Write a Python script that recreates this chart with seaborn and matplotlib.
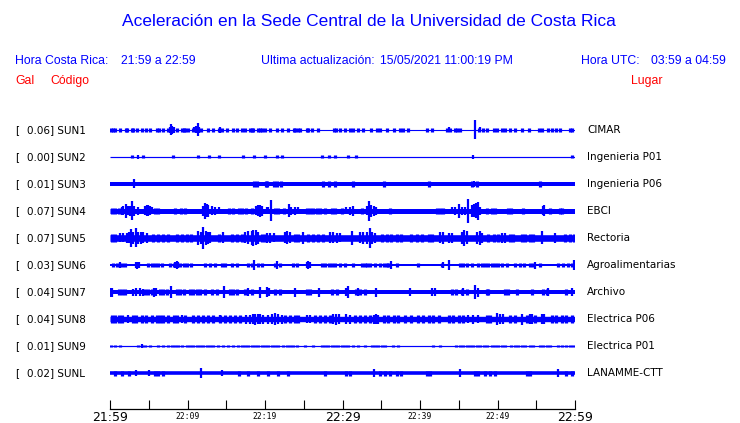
import matplotlib
matplotlib.use("Agg")
import matplotlib.pyplot as plt
import seaborn as sns
import pandas as pd

# ---------------- data ----------------
stations = ["SUN1", "SUN2", "SUN3", "SUN4", "SUN5", "SUN6", "SUN7", "SUN8", "SUN9", "SUNL"]
peak_gal = ["0.06", "0.00", "0.01", "0.07", "0.07", "0.03", "0.04", "0.04", "0.01", "0.02"]
places = ["CIMAR", "Ingenieria P01", "Ingenieria P06", "EBCI", "Rectoria",
          "Agroalimentarias", "Archivo", "Electrica P06", "Electrica P01", "LANAMME-CTT"]
tick_minutes = [0, 5, 10, 15, 20, 25, 30, 35, 40, 45, 50, 55, 60]
tick_labels = ["21:59", "", "22:09", "", "22:19", "", "22:29", "", "22:39", "", "22:49", "", "22:59"]
big_ticks = ["21:59", "22:29", "22:59"]

# background trace half-width and typical blip half-amplitude (relative units)
base_half = [0.55, 0.6, 2.0, 2.5, 3.3, 1.0, 2.0, 2.7, 0.6, 1.8]
blip_amp = [1.8, 1.5, 2.6, 3.2, 4.2, 2.3, 3.3, 3.6, 1.4, 2.5]

# minutes after 21:59 of small blips
sun1_blips = [0.1, 0.4, 0.6, 1.3, 2.0, 2.2, 2.8, 3.0, 3.5, 4.1, 4.6, 5.2, 6.1, 6.3, 6.9, 7.5, 8.6, 9.3,
              9.5, 9.7, 10.1, 10.75, 11.8, 12.7, 13.3, 14.0, 14.4, 15.05, 15.9, 16.35, 17.0, 17.4,
              18.1, 18.3, 18.5, 19.1, 19.4, 19.65, 20.0, 20.6, 21.6, 22.15, 23.0, 23.7, 23.9, 24.2,
              24.5, 25.4, 25.6, 26.0, 26.9, 28.9, 29.1, 29.7, 30.3, 31.0, 31.4, 32.0, 32.7, 33.7,
              34.4, 34.8, 35.7, 36.6, 37.4, 37.85, 38.5, 40.85, 41.5, 43.5, 43.9, 44.5, 44.8, 45.2,
              47.6, 48.1, 48.6, 49.5, 49.9, 50.55, 51.0, 51.6, 52.3, 53.1, 54.0, 55.3, 55.7, 56.55,
              57.0, 57.6, 58.1, 59.4, 59.6]
sun2_blips = [2.9, 4.3, 8.1, 11.4, 12.8, 14.1, 17.2, 18.6, 20.0, 21.5, 22.2, 27.3, 28.2, 29.0,
              30.75, 31.8, 59.6]
sun3_blips = [18.6, 19.0, 20.1, 20.3, 21.1, 21.5, 22.0, 27.5, 28.2, 29.0, 31.3, 35.3, 41.1, 46.7,
              47.3, 55.5]
sun4_blips = [0.2, 0.65, 1.1, 5.8, 6.2, 8.4, 9.2, 9.7, 15.3, 15.9, 16.6, 17.0, 17.6, 18.3, 21.3,
              21.7, 22.4, 25.4, 25.8, 26.2, 26.7, 27.1, 27.7, 28.6, 29.0, 29.9, 32.5, 36.1, 42.15,
              42.6, 43.0, 48.6, 49.25, 49.7, 51.4, 51.8, 53.3, 56.8, 58.1, 58.3]
sun5_blips = [0.2, 0.65, 5.6, 6.2, 6.9, 7.5, 8.6, 9.25, 9.9, 10.5, 14.0, 15.7, 16.35, 17.0, 19.6,
              20.0, 23.9, 24.3, 25.6, 26.2, 26.9, 27.5, 35.05, 35.7, 36.3, 37.0, 37.6, 38.9, 39.6,
              40.2, 41.1, 41.5, 48.8, 49.5, 50.1, 51.6, 52.05, 53.1, 53.55, 54.2, 54.6, 58.7, 59.4,
              59.9]
sun6_blips = [0.43, 0.86, 1.5, 1.9, 4.95, 5.4, 5.8, 6.2, 6.7, 7.7, 8.2, 9.0, 9.5, 9.9, 10.5, 12.3,
              12.9, 13.55, 14.4, 14.8, 15.7, 16.35, 17.85, 18.3, 19.1, 19.65, 21.3, 21.9, 23.65,
              24.1, 27.3, 27.75, 28.2, 28.6, 29.0, 29.7, 30.3, 31.4, 32.5, 32.9, 33.1, 33.55, 34.2,
              34.8, 35.3, 35.7, 35.9, 37.0, 39.8, 42.8, 45.2, 45.6, 46.0, 46.7, 47.5, 48.0, 48.4,
              48.8, 49.25, 49.7, 50.1, 50.55, 51.2, 52.3, 52.9, 53.4, 54.2, 54.6, 55.5, 57.85,
              58.5, 59.15, 59.6]
sun7_blips = [1.1, 1.5, 1.9, 4.5, 4.95, 5.4, 6.45, 6.9, 7.3, 8.6, 9.0, 9.5, 10.3, 10.75, 11.2,
              11.6, 12.26, 13.1, 13.8, 15.5, 15.9, 16.35, 17.4, 18.3, 21.3, 21.9, 25.4, 25.8, 28.6,
              29.25, 31.8, 32.25, 32.9, 44.1, 44.7, 45.4, 46.0, 48.6, 48.8, 51.0, 51.4, 52.5, 54.4,
              55.9, 56.35, 58.9]
sun8_blips = [0.2, 0.65, 1.1, 1.5, 3.0, 3.4, 4.1, 4.7, 5.4, 6.0, 6.45, 6.9, 7.5, 8.2, 8.6, 9.7,
              10.75, 11.4, 12.0, 12.7, 13.3, 14.2, 14.8, 15.5, 16.1, 16.8, 22.6, 23.2, 23.9, 24.3,
              26.45, 27.1, 27.75, 28.4, 31.6, 32.25, 32.9, 33.55, 35.3, 35.9, 36.6, 37.2, 38.1,
              38.9, 39.8, 40.4, 41.1, 41.7, 42.4, 43.7, 44.3, 45.0, 45.6, 48.6, 49.0, 51.6, 52.3,
              53.8, 54.85, 57.0, 57.6, 58.3, 58.9, 59.6]
sun9_blips = [0.13, 0.65, 1.29, 3.66, 4.09, 4.52, 5.16, 6.24, 6.88, 7.53, 7.96, 8.39, 8.82, 9.25,
              9.89, 10.32, 10.75, 11.18, 11.61, 12.04, 12.47, 12.9, 13.33, 13.98, 14.62, 15.27,
              15.91, 16.56, 16.99, 17.42, 17.85, 18.28, 18.71, 19.14, 19.57, 20.0, 20.43, 20.86,
              21.29, 21.72, 22.37, 22.8, 23.23, 23.66, 24.09, 25.16, 26.24, 27.31, 27.74, 28.17,
              28.6, 29.03, 29.46, 29.89, 30.32, 30.75, 31.4, 32.04, 32.9, 33.76, 34.19, 34.62,
              35.05, 35.48, 36.56, 37.2, 41.7, 42.6, 44.7, 45.2, 45.6, 46.0, 46.5, 46.9, 47.3,
              47.75, 48.2, 48.6, 49.25, 49.7, 50.1, 50.55, 51.0, 51.8, 52.3, 52.7, 53.1, 53.55,
              54.2, 54.6, 55.5, 55.9, 56.35, 56.8, 57.85, 58.3, 58.9, 59.4, 59.8]
sunl_blips = [0.65, 1.5, 2.4, 5.8, 6.2, 6.9, 16.6, 17.85, 19.1, 20.4, 21.7, 23.0, 27.75, 30.5,
              31.0, 34.8, 35.5, 36.1, 37.0, 37.6, 40.85, 41.3, 47.1, 47.5, 48.4, 49.0, 49.7, 53.8,
              54.2, 58.9, 59.6]

# (minute, half-amplitude) of larger arrivals
sun1_peaks = [(7.7, 3), (7.9, 5.5), (8.0, 4), (8.2, 3), (10.9, 2.5), (11.1, 3.5), (11.3, 6.5),
              (11.5, 3), (14.2, 3), (43.7, 2.5), (47.1, 9.5), (47.8, 2.5)]
sun2_peaks = [(3.66, 2.0), (46.8, 2.0)]
sun3_peaks = [(3.1, 4.5), (47.0, 3.2)]
sun4_peaks = [(1.5, 4), (1.72, 4.5), (2.0, 7), (2.37, 4.5), (2.58, 5), (2.88, 9.5), (3.14, 5),
              (3.66, 4), (4.5, 4.5), (4.73, 5.5), (4.95, 5.5), (5.16, 4.5), (5.38, 3.5), (12.0, 5),
              (12.26, 8), (12.47, 6.5), (12.7, 6), (13.1, 4.5), (13.55, 4), (14.0, 3.5), (18.9, 4.5),
              (19.1, 5.5), (19.35, 6), (19.6, 5), (20.2, 3.5), (20.4, 3.5), (20.8, 10.5), (23.1, 6.5),
              (23.4, 4), (23.9, 4), (24.3, 3.5), (30.5, 3.5), (31.0, 4), (31.4, 5), (33.1, 4.5),
              (33.4, 10), (33.7, 6), (34.0, 5), (34.3, 4), (44.1, 3.5), (44.5, 4), (45.0, 7),
              (45.4, 4), (45.8, 4), (46.2, 12), (46.7, 6), (47.0, 6.5), (47.2, 7.5), (47.45, 8.7),
              (47.75, 4), (55.9, 4.5), (56.05, 5.5)]
sun5_peaks = [(1.3, 4.5), (1.72, 4.5), (2.15, 5), (2.45, 5.5), (2.7, 9), (3.0, 6), (3.3, 9.5),
              (3.66, 6), (4.0, 6), (4.3, 5.5), (4.73, 5), (11.4, 7), (11.7, 6), (12.0, 11),
              (12.35, 7), (12.7, 6), (12.9, 5.5), (14.6, 5.5), (17.4, 5.5), (17.85, 6.5), (18.3, 7),
              (18.5, 8), (18.8, 7.5), (19.1, 6), (20.2, 5), (20.65, 5), (21.1, 4.5), (22.6, 5.5),
              (22.9, 6.5), (23.2, 5.5), (24.95, 6), (28.4, 5.5), (28.8, 5.5), (29.25, 5),
              (29.7, 4.5), (31.2, 7), (32.25, 5.5), (32.7, 6), (33.1, 6), (33.55, 10), (33.85, 6),
              (34.2, 5), (42.6, 5.5), (43.0, 6), (43.7, 5), (44.1, 5), (45.4, 6), (45.7, 8),
              (46.0, 6.5), (47.3, 6), (47.75, 7), (48.05, 5), (50.55, 5), (51.0, 5), (55.7, 6.5),
              (57.4, 5)]
sun6_peaks = [(1.3, 3.3), (3.3, 3.0), (3.5, 3.5), (3.7, 3.0), (8.4, 3.2), (8.6, 3.7), (8.8, 3.0),
              (18.6, 5), (21.6, 3.7), (25.4, 3.0), (25.6, 4.0), (25.8, 3.0), (36.3, 3.7),
              (43.0, 3.3), (43.8, 5.0), (54.8, 3.5), (59.9, 5.0)]
sun7_peaks = [(0.05, 4.5), (0.2, 4.5), (3.0, 3.5), (3.4, 4.2), (3.87, 3.8), (4.3, 3.5), (5.7, 4.5),
              (5.9, 4.0), (7.9, 6.0), (14.75, 6.0), (17.85, 4.0), (19.4, 5.5), (20.2, 5.0),
              (20.5, 4.0), (23.9, 4.5), (27.0, 4.5), (30.5, 4.0), (30.75, 5.8), (32.0, 4.0),
              (34.3, 4.5), (38.7, 4.0), (41.5, 4.0), (41.9, 4.0), (45.6, 4.0), (47.1, 6.8),
              (47.45, 4.5), (56.55, 3.8), (59.6, 4.0)]
sun8_peaks = [(2.37, 4.0), (9.25, 4.0), (14.2, 4.0), (17.6, 4.5), (18.1, 4.5), (18.4, 5.0),
              (18.7, 5.5), (19.05, 5.0), (19.35, 5.0), (19.8, 4.5), (20.4, 4.5), (20.9, 5.0),
              (21.3, 6.0), (21.7, 5.0), (22.15, 4.5), (25.4, 4.0), (25.8, 4.0), (28.8, 5.0),
              (29.15, 5.5), (29.5, 5.0), (30.5, 5.0), (31.0, 4.5), (34.0, 4.5), (34.3, 5.0),
              (34.6, 4.5), (46.2, 4.0), (46.9, 4.5), (47.5, 4.0), (49.9, 6.0), (50.3, 5.0),
              (50.75, 5.0), (53.1, 5.5), (54.2, 5.0), (54.5, 5.0), (55.7, 5.0), (56.05, 5.0)]
sun9_peaks = [(4.1, 2.0)]
sunl_peaks = [(3.3, 2.8), (5.0, 3.0), (11.8, 4.7), (14.4, 3.0), (34.1, 3.7), (45.1, 3.7),
              (57.85, 4.0)]

all_blips = [sun1_blips, sun2_blips, sun3_blips, sun4_blips, sun5_blips,
             sun6_blips, sun7_blips, sun8_blips, sun9_blips, sunl_blips]
all_peaks = [sun1_peaks, sun2_peaks, sun3_peaks, sun4_peaks, sun5_peaks,
             sun6_peaks, sun7_peaks, sun8_peaks, sun9_peaks, sunl_peaks]

# ---------------- style ----------------
BLUE = "#0000ff"
RED = "#ff0000"
W, H, DPI = 740, 423, 100

sns.set_theme(style="white")
plt.rcParams["font.family"] = ["Liberation Sans", "DejaVu Sans"]

fig = plt.figure(figsize=(W / DPI, H / DPI), dpi=DPI)
fig.patch.set_facecolor("white")

# axes: x 110..575 px, y 116..409 px (bottom spine = time axis)
ax_left, ax_right, ax_top, ax_bot = 110, 575, 116, 409
ax = fig.add_axes([ax_left / W, (H - ax_bot) / H, (ax_right - ax_left) / W, (ax_bot - ax_top) / H])
ax.set_facecolor("white")
ax.set_xlim(0, 60)
ax.set_ylim(ax_bot - ax_top, 0)  # 1 unit = 1 pixel, downward
px2pt = 72.0 / DPI

for i, st in enumerate(stations):
    c = 14 + 27 * i
    df = pd.DataFrame({"t": [0, 60], "y": [c, c]})
    sns.lineplot(data=df, x="t", y="y", ax=ax, color=BLUE,
                 linewidth=max(2 * base_half[i], 1.1) * px2pt, solid_capstyle="butt")
    b = blip_amp[i]
    ax.vlines(all_blips[i], c - b, c + b, color=BLUE, lw=2.3)
    pt = [p[0] for p in all_peaks[i]]
    pa = [p[1] for p in all_peaks[i]]
    ax.vlines(pt, [c - a for a in pa], [c + a for a in pa], color=BLUE, lw=1.6)

    # left / right labels
    yf = 1 - (ax_top + c) / H
    fig.text(15 / W, yf, "[", fontsize=7.5, family="DejaVu Sans", color="black", va="center")
    fig.text(27.3 / W, yf, f"{peak_gal[i]}] {st}", fontsize=7.5, family="DejaVu Sans",
             color="black", va="center")
    fig.text(587.3 / W, yf, places[i], fontsize=7.5, family="DejaVu Sans",
             color="black", va="center")

ax.set_xlabel("")
ax.set_ylabel("")
ax.set_yticks([])
for s in ["top", "left", "right"]:
    ax.spines[s].set_visible(False)
ax.spines["bottom"].set_color("black")
ax.spines["bottom"].set_linewidth(0.9)
ax.set_xticks(tick_minutes)
ax.set_xticklabels(tick_labels)
ax.tick_params(axis="x", direction="in", length=6.5, width=0.8, color="black", pad=1.5,
               bottom=True)
for lab in ax.get_xticklabels():
    if lab.get_text() in big_ticks:
        lab.set_fontfamily("DejaVu Sans")
        lab.set_fontsize(9)
    else:
        lab.set_fontfamily("DejaVu Sans Mono")
        lab.set_fontsize(5.8)
        lab.set_y(-0.004)
    lab.set_color("black")

# ---------------- header texts ----------------
def ftext(x, y, s, **kw):
    fig.text(x / W, 1 - y / H, s, va="center", **kw)

ftext(368.5, 22, "Aceleración en la Sede Central de la Universidad de Costa Rica",
      fontsize=12.5, color=BLUE, ha="center")
ftext(15, 61, "Hora Costa Rica:", fontsize=8.8, color=BLUE)
ftext(120.7, 61, "21:59 a 22:59", fontsize=8.8, color=BLUE)
ftext(260.7, 61, "Ultima actualización:", fontsize=8.8, color=BLUE)
ftext(380, 61, "15/05/2021 11:00:19 PM", fontsize=8.8, color=BLUE)
ftext(580.7, 61, "Hora UTC:", fontsize=8.8, color=BLUE)
ftext(650.7, 61, "03:59 a 04:59", fontsize=8.8, color=BLUE)
ftext(15, 81, "Gal", fontsize=8.8, color=RED)
ftext(50, 81, "Código", fontsize=8.8, color=RED)
ftext(630.7, 81, "Lugar", fontsize=8.8, color=RED)

fig.savefig("out.png", dpi=DPI, facecolor="white")
